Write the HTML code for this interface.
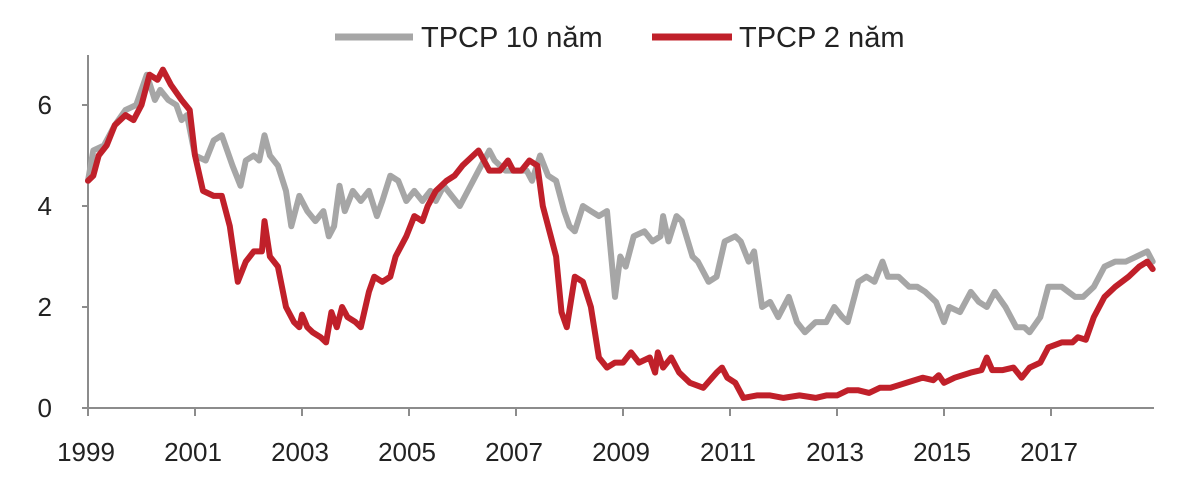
<!DOCTYPE html>
<html><head><meta charset="utf-8"><style>
body{margin:0;background:#fff;width:1200px;height:477px;overflow:hidden}
svg{font-family:"Liberation Sans",sans-serif}
</style></head><body>
<svg id="chart" width="1200" height="477" viewBox="0 0 1200 477">
<g>
<line x1="335" y1="37" x2="413" y2="37" stroke="#a6a6a6" stroke-width="7"/>
<text x="421" y="47" font-size="29" fill="#222">TPCP 10 năm</text>
<line x1="652" y1="37" x2="732" y2="37" stroke="#c0202a" stroke-width="7"/>
<text x="739" y="47" font-size="29" fill="#222">TPCP 2 năm</text>
</g>
<g id="axes"></g>
<g id="series"></g>
</svg>
<script>
const yTicks=[0,2,4,6];
const xTicks=[1999,2001,2003,2005,2007,2009,2011,2013,2015,2017];
const t10=[1999.0,1999.1,1999.3,1999.5,1999.7,1999.9,2000.0,2000.1,2000.25,2000.35,2000.5,2000.65,2000.75,2000.85,2001.0,2001.2,2001.35,2001.5,2001.7,2001.85,2001.95,2002.1,2002.2,2002.3,2002.4,2002.55,2002.7,2002.8,2002.95,2003.1,2003.25,2003.4,2003.5,2003.6,2003.7,2003.8,2003.95,2004.1,2004.25,2004.4,2004.5,2004.65,2004.8,2004.95,2005.1,2005.25,2005.4,2005.5,2005.65,2005.8,2005.95,2006.1,2006.3,2006.5,2006.6,2006.8,2007.0,2007.2,2007.3,2007.45,2007.6,2007.75,2007.9,2008.0,2008.1,2008.25,2008.4,2008.55,2008.7,2008.85,2008.95,2009.05,2009.2,2009.4,2009.55,2009.7,2009.75,2009.85,2010.0,2010.1,2010.3,2010.4,2010.6,2010.75,2010.9,2011.1,2011.2,2011.35,2011.45,2011.6,2011.75,2011.9,2012.1,2012.25,2012.4,2012.6,2012.8,2012.95,2013.1,2013.2,2013.4,2013.55,2013.7,2013.85,2013.95,2014.15,2014.35,2014.5,2014.65,2014.85,2015.0,2015.1,2015.3,2015.5,2015.65,2015.8,2015.95,2016.15,2016.35,2016.5,2016.6,2016.8,2016.95,2017.2,2017.45,2017.6,2017.8,2018.0,2018.2,2018.4,2018.6,2018.8,2018.9];
const v10=[4.5,5.1,5.2,5.6,5.9,6.0,6.3,6.6,6.1,6.3,6.1,6.0,5.7,5.8,5.0,4.9,5.3,5.4,4.8,4.4,4.9,5.0,4.9,5.4,5.0,4.8,4.3,3.6,4.2,3.9,3.7,3.9,3.4,3.6,4.4,3.9,4.3,4.1,4.3,3.8,4.1,4.6,4.5,4.1,4.3,4.1,4.3,4.1,4.4,4.2,4.0,4.3,4.7,5.1,4.9,4.7,4.7,4.7,4.5,5.0,4.6,4.5,3.9,3.6,3.5,4.0,3.9,3.8,3.9,2.2,3.0,2.8,3.4,3.5,3.3,3.4,3.8,3.3,3.8,3.7,3.0,2.9,2.5,2.6,3.3,3.4,3.3,2.9,3.1,2.0,2.1,1.8,2.2,1.7,1.5,1.7,1.7,2.0,1.8,1.7,2.5,2.6,2.5,2.9,2.6,2.6,2.4,2.4,2.3,2.1,1.7,2.0,1.9,2.3,2.1,2.0,2.3,2.0,1.6,1.6,1.5,1.8,2.4,2.4,2.2,2.2,2.4,2.8,2.9,2.9,3.0,3.1,2.9];
const t2=[1999.0,1999.1,1999.2,1999.35,1999.5,1999.7,1999.85,2000.0,2000.15,2000.3,2000.4,2000.55,2000.75,2000.9,2001.0,2001.15,2001.35,2001.5,2001.65,2001.8,2001.95,2002.1,2002.25,2002.3,2002.4,2002.55,2002.7,2002.85,2002.95,2003.0,2003.1,2003.2,2003.35,2003.45,2003.55,2003.65,2003.75,2003.85,2004.0,2004.1,2004.25,2004.35,2004.5,2004.65,2004.75,2004.95,2005.1,2005.25,2005.35,2005.5,2005.7,2005.85,2006.0,2006.3,2006.5,2006.7,2006.85,2006.95,2007.1,2007.25,2007.4,2007.5,2007.65,2007.75,2007.85,2007.95,2008.1,2008.25,2008.4,2008.55,2008.7,2008.85,2009.0,2009.15,2009.3,2009.5,2009.6,2009.65,2009.75,2009.9,2010.05,2010.25,2010.5,2010.75,2010.85,2010.95,2011.1,2011.25,2011.5,2011.75,2012.0,2012.3,2012.6,2012.8,2013.0,2013.2,2013.4,2013.6,2013.8,2014.0,2014.3,2014.6,2014.8,2014.9,2015.0,2015.2,2015.5,2015.7,2015.8,2015.9,2016.1,2016.3,2016.45,2016.6,2016.8,2016.95,2017.2,2017.4,2017.5,2017.65,2017.8,2018.0,2018.2,2018.45,2018.65,2018.8,2018.9];
const v2=[4.5,4.6,5.0,5.2,5.6,5.8,5.7,6.0,6.6,6.5,6.7,6.4,6.1,5.9,5.0,4.3,4.2,4.2,3.6,2.5,2.9,3.1,3.1,3.7,3.0,2.8,2.0,1.7,1.6,1.85,1.6,1.5,1.4,1.3,1.9,1.6,2.0,1.8,1.7,1.6,2.3,2.6,2.5,2.6,3.0,3.4,3.8,3.7,4.0,4.3,4.5,4.6,4.8,5.1,4.7,4.7,4.9,4.7,4.7,4.9,4.8,4.0,3.4,3.0,1.9,1.6,2.6,2.5,2.0,1.0,0.8,0.9,0.9,1.1,0.9,1.0,0.7,1.1,0.8,1.0,0.7,0.5,0.4,0.7,0.8,0.6,0.5,0.2,0.25,0.25,0.2,0.25,0.2,0.25,0.25,0.35,0.35,0.3,0.4,0.4,0.5,0.6,0.55,0.65,0.5,0.6,0.7,0.75,1.0,0.75,0.75,0.8,0.6,0.8,0.9,1.2,1.3,1.3,1.4,1.35,1.8,2.2,2.4,2.6,2.8,2.9,2.75];
const X=t=>88+(t-1999)*53.5;
const Y=v=>408-v*50.5;
const NS='http://www.w3.org/2000/svg';
const axes=document.getElementById('axes'),ser=document.getElementById('series');
function mk(tag,attrs,parent){const e=document.createElementNS(NS,tag);for(const k in attrs)e.setAttribute(k,attrs[k]);parent.appendChild(e);return e;}
let a=mk('line',{x1:88,y1:55,x2:88,y2:408,stroke:'#8c8c8c','stroke-width':2},axes);


a=mk('line',{x1:88,y1:408,x2:1154,y2:408,stroke:'#8c8c8c','stroke-width':2},axes);


yTicks.forEach(v=>{
 const tk=mk('line',{x1:82,y1:Y(v),x2:88,y2:Y(v),stroke:'#8c8c8c','stroke-width':2},axes);
 
 
 const t=mk('text',{x:52,y:Y(v)+9,'font-size':26,fill:'#222','text-anchor':'end'},axes);
 t.textContent=v;
 
 
});
xTicks.forEach(v=>{
 const tk=mk('line',{x1:X(v),y1:408,x2:X(v),y2:416,stroke:'#8c8c8c','stroke-width':2},axes);
 
 
 const t=mk('text',{x:X(v)-2,y:461,'font-size':26,fill:'#222','text-anchor':'middle'},axes);
 t.textContent=v;
 
 
});
function line(ts,vs,color,name){
 const d=ts.map((t,i)=>(i?'L':'M')+X(t).toFixed(1)+' '+Y(vs[i]).toFixed(1)).join(' ');
 const p=mk('path',{d:d,fill:'none',stroke:color,'stroke-width':6,'stroke-linejoin':'round','stroke-linecap':'round'},ser);
 
 
}
line(t10,v10,'#a6a6a6','series-10y-line');
line(t2,v2,'#c0202a','series-2y-line');
</script>
</body></html>
